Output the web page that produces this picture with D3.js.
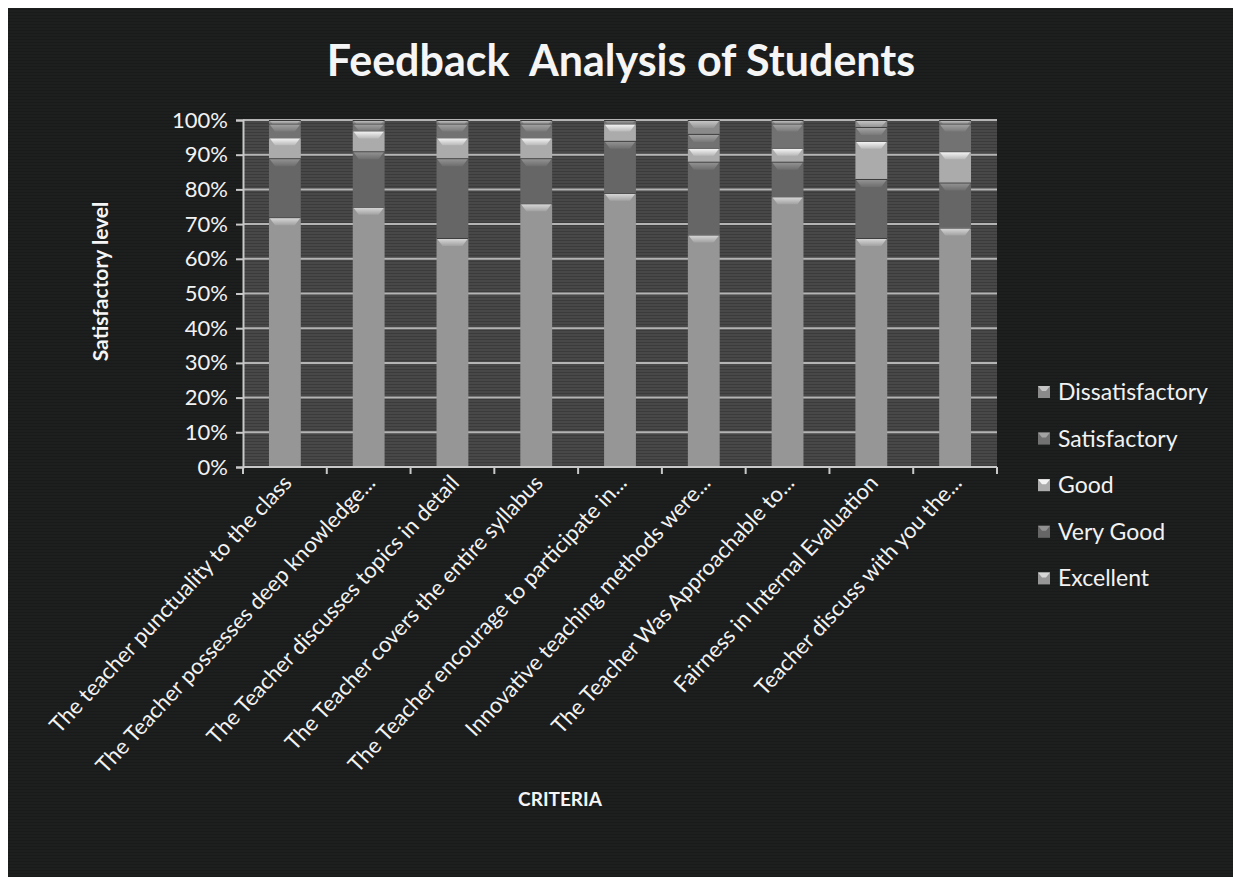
<!DOCTYPE html>
<html>
<head>
<meta charset="utf-8">
<script src="https://cdn.jsdelivr.net/npm/d3@7"></script>
<style>
  body { margin: 0; background: #fff; }
  svg { display: block; }
</style>
</head>
<body>
<div id="chart"></div>
<script>
const criteria = [
  "The teacher punctuality to the class",
  "The Teacher possesses deep knowledge...",
  "The Teacher discusses topics in detail",
  "The Teacher covers the entire syllabus",
  "The Teacher encourage to participate in...",
  "Innovative teaching methods were...",
  "The Teacher Was Approachable to...",
  "Fairness in Internal Evaluation",
  "Teacher discuss with you the..."
];
const levels = ["Excellent", "Very Good", "Good", "Satisfactory", "Dissatisfactory"];
const excellent       = [72, 75, 66, 76, 79, 67, 78, 66, 69];
const veryGood        = [17, 16, 23, 13, 15, 21, 10, 17, 13];
const good            = [6, 6, 6, 6, 5, 4, 4, 11, 9];
const satisfactory    = [4, 2, 4, 4, 1, 4, 7, 4, 8];
const dissatisfactory = [1, 1, 1, 1, 0, 4, 1, 2, 1];
const yTicks = [0, 0.1, 0.2, 0.3, 0.4, 0.5, 0.6, 0.7, 0.8, 0.9, 1];

const fills = {
  "Excellent": "#969696",
  "Very Good": "#666666",
  "Good": "#ababab",
  "Satisfactory": "#727272",
  "Dissatisfactory": "#8a8a8a"
};

const rows = criteria.map((c, i) => {
  const total = excellent[i] + veryGood[i] + good[i] + satisfactory[i] + dissatisfactory[i];
  return {
    name: c,
    "Excellent": excellent[i] / total,
    "Very Good": veryGood[i] / total,
    "Good": good[i] / total,
    "Satisfactory": satisfactory[i] / total,
    "Dissatisfactory": dissatisfactory[i] / total
  };
});

const W = 1233, H = 877;
const margin = { top: 120, right: 236, bottom: 410, left: 243 };
const width = W - margin.left - margin.right;
const height = H - margin.top - margin.bottom;
const font = "Lato, 'Open Sans', sans-serif";

const root = d3.select("#chart").append("svg")
  .attr("width", W)
  .attr("height", H)
  .style("font-family", font);

const defs = root.append("defs");
// scanline texture
const pat = defs.append("pattern")
  .attr("id", "scan")
  .attr("width", 4).attr("height", 3)
  .attr("patternUnits", "userSpaceOnUse");
pat.append("rect").attr("width", 4).attr("height", 3).attr("fill", "#484848");
pat.append("rect").attr("width", 4).attr("height", 1).attr("fill", "#3b3b3b");

const bgPat = defs.append("pattern")
  .attr("id", "bgscan")
  .attr("width", 4).attr("height", 3)
  .attr("patternUnits", "userSpaceOnUse");
bgPat.append("rect").attr("width", 4).attr("height", 3).attr("fill", "#1d1f1f");
bgPat.append("rect").attr("width", 4).attr("height", 1).attr("fill", "#191a1a");

levels.forEach(l => {
  const g = defs.append("linearGradient")
    .attr("id", "bev-" + l.replace(" ", ""))
    .attr("x1", 0).attr("y1", 0).attr("x2", 0).attr("y2", 1);
  g.append("stop").attr("offset", "0%").attr("stop-color", d3.color(fills[l]).brighter(1.1));
  g.append("stop").attr("offset", "100%").attr("stop-color", d3.color(fills[l]).brighter(0.2));
});

root.append("rect")
  .attr("x", 8).attr("y", 8)
  .attr("width", W - 8).attr("height", H - 8)
  .attr("fill", "url(#bgscan)");

const svg = root.append("g")
  .attr("transform", `translate(${margin.left},${margin.top})`);

const x = d3.scaleBand()
  .domain(criteria)
  .range([0, width])
  .paddingInner(0.62)
  .paddingOuter(0.31);

const y = d3.scaleLinear()
  .domain([0, 1])
  .range([height, 0]);

svg.append("rect")
  .attr("width", width)
  .attr("height", height)
  .attr("fill", "url(#scan)");

// gridlines
svg.append("g")
  .selectAll("line")
  .data(yTicks.slice(1))
  .join("line")
  .attr("x1", 0).attr("x2", width)
  .attr("y1", d => y(d)).attr("y2", d => y(d))
  .attr("stroke", "#b4b4b4")
  .attr("stroke-width", 2);

const stack = d3.stack().keys(levels);
const series = stack(rows);

const bw = x.bandwidth();
series.forEach(s => {
  const key = s.key;
  const g = svg.append("g").attr("class", "series");
  s.forEach(d => {
    const x0 = x(d.data.name);
    const yTop = y(d[1]);
    const yBot = y(d[0]);
    const h = yBot - yTop;
    if (h <= 0.3) return;
    g.append("rect")
      .attr("x", x0).attr("y", yTop)
      .attr("width", bw).attr("height", h)
      .attr("fill", fills[key]);
    // bevel on top
    const b = Math.min(8, h);
    const ins = Math.min(6, b);
    g.append("path")
      .attr("d", `M${x0},${yTop} L${x0 + bw},${yTop} L${x0 + bw - ins},${yTop + b} L${x0 + ins},${yTop + b} Z`)
      .attr("fill", `url(#bev-${key.replace(" ", "")})`);
    g.append("line")
      .attr("x1", x0).attr("x2", x0 + bw)
      .attr("y1", yTop + 0.5).attr("y2", yTop + 0.5)
      .attr("stroke", "#3a3a3a")
      .attr("stroke-width", 1);
  });
});

// axes
const yAxis = d3.axisLeft(y)
  .tickValues(yTicks)
  .tickFormat(d3.format(".0%"))
  .tickSize(7)
  .tickPadding(8);

const yg = svg.append("g").call(yAxis);
yg.select(".domain").attr("stroke", "#c8c8c8").attr("stroke-width", 2);
yg.selectAll(".tick line").attr("stroke", "#c8c8c8").attr("stroke-width", 2);
yg.selectAll("text")
  .attr("fill", "#f2f2f2")
  .style("font-size", "22px")
  .style("font-family", font);

const xg = svg.append("g")
  .attr("transform", `translate(0,${height})`);
xg.append("line")
  .attr("x1", 0).attr("x2", width)
  .attr("stroke", "#c8c8c8").attr("stroke-width", 2);
const step = x.step();
xg.selectAll(".tk")
  .data(d3.range(criteria.length + 1))
  .join("line")
  .attr("class", "tk")
  .attr("x1", i => i * step).attr("x2", i => i * step)
  .attr("y1", 0).attr("y2", 7)
  .attr("stroke", "#c8c8c8").attr("stroke-width", 2);

xg.selectAll(".lbl")
  .data(criteria)
  .join("text")
  .attr("class", "lbl")
  .attr("transform", d => `translate(${x(d) + bw / 2 + 8},${17}) rotate(-47)`)
  .attr("text-anchor", "end")
  .attr("fill", "#f2f2f2")
  .style("font-size", "22px")
  .text(d => d);

// titles
root.append("text")
  .attr("x", 621)
  .attr("y", 76)
  .attr("text-anchor", "middle")
  .attr("fill", "#f5f5f5")
  .style("font-size", "43px")
  .style("font-weight", "bold")
  .style("white-space", "pre")
  .text("Feedback  Analysis of Students");

root.append("text")
  .attr("transform", `translate(108,${margin.top + height / 2 - 12}) rotate(-90)`)
  .attr("text-anchor", "middle")
  .attr("fill", "#f5f5f5")
  .style("font-size", "21px")
  .style("font-weight", "bold")
  .text("Satisfactory level");

root.append("text")
  .attr("x", 560)
  .attr("y", 806)
  .attr("text-anchor", "middle")
  .attr("fill", "#f5f5f5")
  .style("font-size", "19px")
  .style("font-weight", "bold")
  .text("CRITERIA");

// legend
const legend = root.append("g")
  .attr("transform", "translate(1038,392)");
levels.slice().reverse().forEach((l, i) => {
  const row = legend.append("g")
    .attr("transform", `translate(0,${i * 46.6})`);
  row.append("rect")
    .attr("x", 0).attr("y", -6)
    .attr("width", 12).attr("height", 12)
    .attr("fill", fills[l]);
  row.append("path")
    .attr("d", "M0,-6 L12,-6 L8,-1 L4,-1 Z")
    .attr("fill", d3.color(fills[l]).brighter(1));
  row.append("text")
    .attr("x", 20)
    .attr("y", 8)
    .attr("fill", "#f2f2f2")
    .style("font-size", "23px")
    .text(l);
});
</script>
</body>
</html>
